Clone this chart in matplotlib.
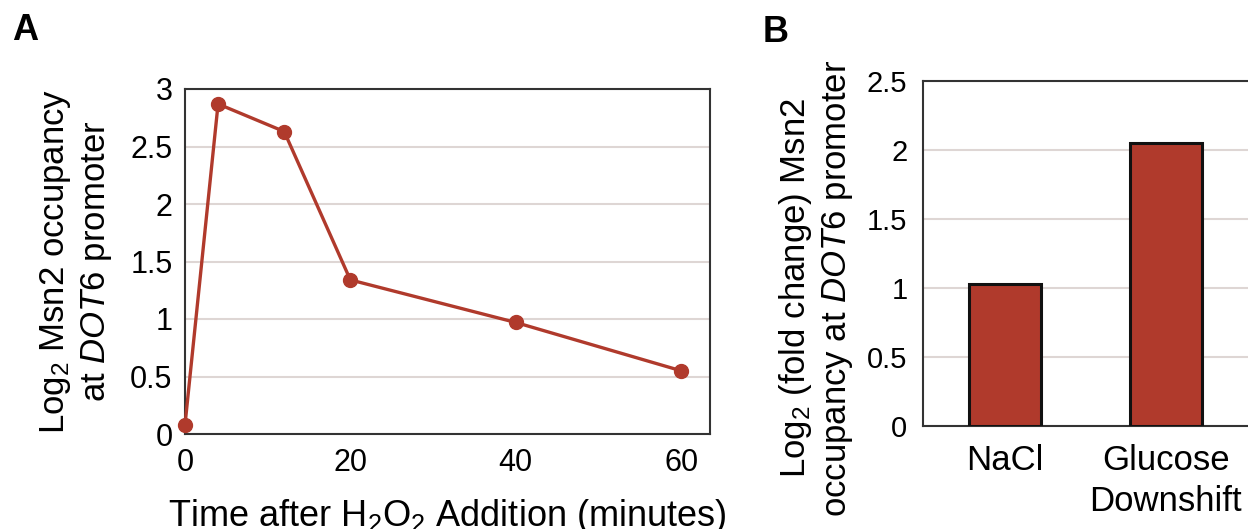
import matplotlib
matplotlib.use("Agg")
import matplotlib.pyplot as plt

plt.rcParams['font.family'] = ['Liberation Sans', 'DejaVu Sans']
plt.rcParams['mathtext.fontset'] = 'custom'
plt.rcParams['mathtext.rm'] = 'Liberation Sans'
plt.rcParams['mathtext.it'] = 'Liberation Sans:italic'

# Panel A data: time course after H2O2
time_min = [0, 4, 12, 20, 40, 60]
occupancy = [0.08, 2.87, 2.63, 1.34, 0.97, 0.55]
a_yticks = [0, 0.5, 1, 1.5, 2, 2.5, 3]
a_yticklabels = ['0', '0.5', '1', '1.5', '2', '2.5', '3']
a_xticks = [0, 20, 40, 60]

# Panel B data: other stresses
conditions = ['NaCl', 'Glucose\nDownshift']
fold_change = [1.03, 2.05]
b_yticks = [0, 0.5, 1, 1.5, 2, 2.5]
b_yticklabels = ['0', '0.5', '1', '1.5', '2', '2.5']

red = '#B03A2C'
grid_col = '#DED6D4'
spine_col = '#333333'

W, H = 1248, 529
fig = plt.figure(figsize=(W / 100, H / 100), dpi=100)

# ---- Panel A ----
axA = fig.add_axes([185 / W, 1 - 434 / H, 525 / W, 345 / H])
axA.plot(time_min, occupancy, color=red, lw=2.4, marker='o', ms=10,
         clip_on=False, zorder=3)
axA.set_xlim(0, 63.5)
axA.set_ylim(0, 3)
axA.set_yticks(a_yticks)
axA.set_yticklabels(a_yticklabels)
axA.set_xticks(a_xticks)
axA.yaxis.grid(True, color=grid_col, lw=1.5)
axA.set_axisbelow(True)
axA.tick_params(axis='y', length=0, pad=9, labelsize=22)
axA.tick_params(axis='x', length=0, pad=10, labelsize=22)
for s in axA.spines.values():
    s.set_color(spine_col)
    s.set_linewidth(1.5)
fig.text(76 / W, 1 - 261 / H,
         'Log$_2$ Msn2 occupancy\nat $\\mathit{DOT6}$ promoter',
         fontsize=25, rotation=90, ha='center', va='center',
         multialignment='center', linespacing=1.25)
fig.text(447 / W, 1 - 526 / H, 'Time after H$_2$O$_2$ Addition (minutes)',
         fontsize=26, ha='center', va='baseline')
fig.text(25 / W, 1 - 30 / H, 'A', fontsize=26, fontweight='bold',
         ha='center', va='center')

# ---- Panel B ----
axB = fig.add_axes([922.7 / W, 1 - 426 / H, 372 / W, 345 / H])
axB.bar(range(len(conditions)), fold_change, width=0.45, color=red,
        edgecolor='#111111', linewidth=2.2, zorder=3)
axB.set_xlim(-0.51, 1.8)
axB.set_ylim(0, 2.5)
axB.set_yticks(b_yticks)
axB.set_yticklabels(b_yticklabels)
axB.set_xticks(range(len(conditions)))
axB.set_xticklabels(conditions, linespacing=1.3)
axB.yaxis.grid(True, color=grid_col, lw=1.5)
axB.set_axisbelow(True)
axB.tick_params(axis='y', length=0, pad=11, labelsize=21)
axB.tick_params(axis='x', length=0, pad=13, labelsize=25)
for s in axB.spines.values():
    s.set_color(spine_col)
    s.set_linewidth(1.5)
axB.spines['right'].set_visible(False)
fig.text(816 / W, 1 - 288 / H,
         'Log$_2$ (fold change) Msn2\noccupancy at $\\mathit{DOT6}$ promoter',
         fontsize=25, rotation=90, ha='center', va='center',
         multialignment='center', linespacing=1.25)
fig.text(776 / W, 1 - 33 / H, 'B', fontsize=26, fontweight='bold',
         ha='center', va='center')

fig.savefig('out.png', dpi=100)
